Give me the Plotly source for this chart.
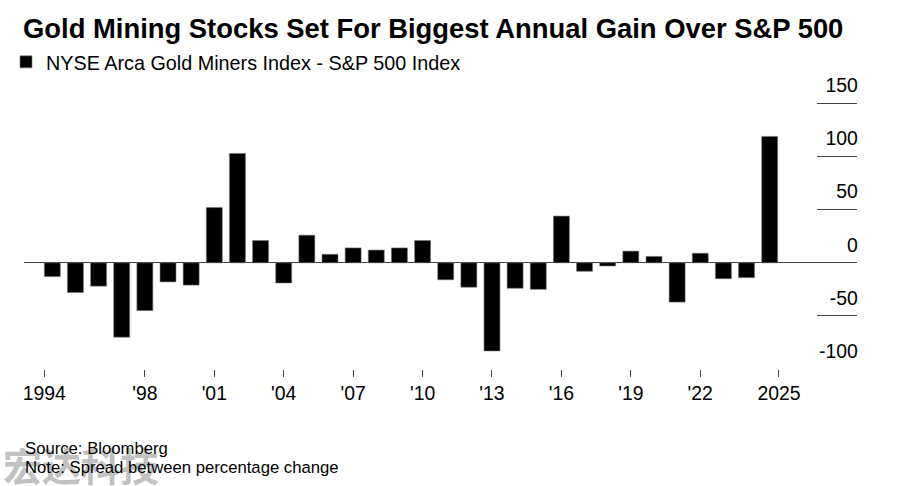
import plotly.graph_objects as go

years = list(range(1994, 2026))
spread = [-13, -28, -22, -70, -45, -18, -21, 52, 103, 21, -19, 26, 8, 14, 12, 14,
          21, -16, -23, -83, -24, -25, 44, -8, -3, 11, 6, -37, 9, -15, -14, 119]

tick_vals = [1993.65, 1998, 2001, 2004, 2007, 2010, 2013, 2016, 2019, 2022, 2025.4]
tick_text = ["1994", "'98", "'01", "'04", "'07", "'10", "'13", "'16", "'19", "'22", "2025"]
y_ticks = [-100, -50, 0, 50, 100, 150]
y_tick_text = ["-100", "-50", "0", "50", "100", "150"]

title = "Gold Mining Stocks Set For Biggest Annual Gain Over S&P 500"
series_name = "NYSE Arca Gold Miners Index - S&P 500 Index"

FONT = "Liberation Sans, Arial, sans-serif"

# plot area geometry (pixels)
L, R, T, B = 24, 857, 40, 369
PW, PH = R - L, B - T


def px(x):
    return (x - L) / PW


def py(y):
    return (B - y) / PH


fig = go.Figure()
fig.add_trace(go.Bar(
    x=years, y=spread, name=series_name,
    marker=dict(color="#000000", line=dict(color="#777777", width=0.6)),
    showlegend=True,
))

fig.update_layout(
    width=910, height=486,
    margin=dict(l=L, r=910 - R, t=T, b=486 - B, autoexpand=False),
    paper_bgcolor="white", plot_bgcolor="white",
    bargap=0.31,
    font=dict(family=FONT, color="#000000", size=19),
    title=dict(text="<b>" + title + "</b>", x=23 / 910, xanchor="left", xref="container",
               y=1 - 28 / 486, yanchor="middle", yref="container",
               font=dict(family=FONT, size=27.4, color="#000000")),
    showlegend=True,
    legend=dict(x=px(6), y=py(62), xref="paper", yref="paper",
                xanchor="left", yanchor="middle", orientation="h",
                font=dict(family=FONT, size=19.8, color="#000000"),
                itemwidth=30, bgcolor="rgba(0,0,0,0)"),
    xaxis=dict(range=[1992.777, 2028.773], tickvals=tick_vals, ticktext=tick_text,
               ticks="outside", ticklen=7, tickcolor="#444444", tickwidth=1,
               showgrid=False, zeroline=False, showline=False, automargin=False,
               fixedrange=True,
               tickfont=dict(family=FONT, size=19.4, color="#000000")),
    yaxis=dict(range=[-100, -100 + PH / 1.062], tickvals=y_ticks, ticktext=y_tick_text,
               side="right",
               ticks="inside", ticklen=40, tickcolor="#444444", tickwidth=1,
               ticklabelposition="inside", ticklabelstandoff=-40, ticklabelshift=-18,
               showgrid=False, zeroline=True, zerolinecolor="#444444", zerolinewidth=1,
               showline=False, automargin=False, fixedrange=True,
               tickfont=dict(family=FONT, size=19.4, color="#000000")),
)

fig.add_annotation(text="<b>宏达科技</b>", xref="paper", yref="paper",
                   x=px(1), y=py(464), xanchor="left", yanchor="middle",
                   showarrow=False,
                   font=dict(family="Noto Sans CJK SC", size=39, color="rgba(165,165,165,0.7)"))
fig.add_annotation(text="Source: Bloomberg", xref="paper", yref="paper",
                   x=px(23), y=py(448), xanchor="left", yanchor="middle",
                   showarrow=False, font=dict(family=FONT, size=16.7, color="#000000"))
fig.add_annotation(text="Note: Spread between percentage change", xref="paper", yref="paper",
                   x=px(23), y=py(467), xanchor="left", yanchor="middle",
                   showarrow=False, font=dict(family=FONT, size=16.7, color="#000000"))

fig.write_html("out.html", config={"displayModeBar": False},
               post_script="document.body.style.margin='0';")
